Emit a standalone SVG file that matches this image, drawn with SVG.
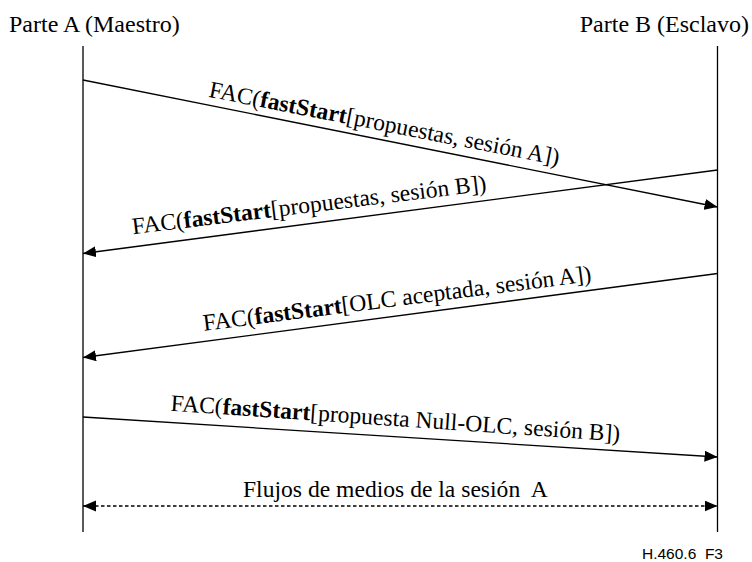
<svg xmlns="http://www.w3.org/2000/svg" width="752" height="562" viewBox="0 0 752 562">
  <style>
    .lbl { font-family: "Liberation Serif", "Times New Roman", serif; font-size: 24px; fill: #000; }
    .msg { font-family: "Liberation Serif", "Times New Roman", serif; font-size: 23.6px; fill: #000; }
    .b { font-weight: bold; }
    .life { stroke: #000; stroke-width: 1.3; fill: none; }
    .arrow { stroke: #000; stroke-width: 1.3; fill: none; marker-end: url(#head); }
    .flow { stroke: #000; stroke-width: 1.3; fill: none; stroke-dasharray: 3.5 2.5; marker-start: url(#head); marker-end: url(#head); }
    .ref { font-family: "Liberation Sans", Arial, sans-serif; font-size: 15.5px; fill: #000; }
  </style>
  <defs>
    <marker id="head" markerUnits="userSpaceOnUse" markerWidth="14" markerHeight="12" refX="13" refY="5.5" orient="auto-start-reverse">
      <path d="M0,0 L13,5.5 L0,11 z" fill="#000"/>
    </marker>
  </defs>
  <rect width="752" height="562" fill="#fff"/>

  <!-- Party A lifeline -->
  <g id="parte-a">
    <text class="lbl" x="9" y="32">Parte A (Maestro)</text>
    <line class="life" x1="83" y1="46" x2="83" y2="532"/>
  </g>

  <!-- Party B lifeline -->
  <g id="parte-b">
    <text class="lbl" x="749" y="32" text-anchor="end">Parte B (Esclavo)</text>
    <line class="life" x1="717.5" y1="46" x2="717.5" y2="532"/>
  </g>

  <!-- Message arrows -->
  <g id="connectors">
    <line class="arrow" x1="83" y1="80" x2="717.5" y2="207"/>
    <line class="arrow" x1="717.5" y1="170" x2="83" y2="253.5"/>
    <line class="arrow" x1="717.5" y1="273.5" x2="83" y2="357.5"/>
    <line class="arrow" x1="83" y1="417" x2="717.5" y2="457"/>
    <line class="flow" x1="83" y1="506" x2="717.5" y2="506"/>
  </g>

  <!-- Message labels -->
  <g id="labels">
    <text class="msg" text-anchor="middle" transform="translate(383,131) rotate(11.1)">FAC(<tspan class="b">fastStart</tspan>[propuestas, sesión A])</text>
    <text class="msg" text-anchor="middle" transform="translate(310,212.5) rotate(-7)">FAC(<tspan class="b">fastStart</tspan>[propuestas, sesión B])</text>
    <text class="msg" text-anchor="middle" transform="translate(398,306) rotate(-7.3)">FAC(<tspan class="b">fastStart</tspan>[OLC aceptada, sesión A])</text>
    <text class="msg" text-anchor="middle" transform="translate(395,426) rotate(3.9)">FAC(<tspan class="b">fastStart</tspan>[propuesta Null-OLC, sesión B])</text>
    <text class="msg" x="243" y="497" xml:space="preserve" style="white-space:pre">Flujos de medios de la sesión  A</text>
  </g>

  <text class="ref" x="642" y="559" xml:space="preserve" style="white-space:pre">H.460.6  F3</text>
</svg>
